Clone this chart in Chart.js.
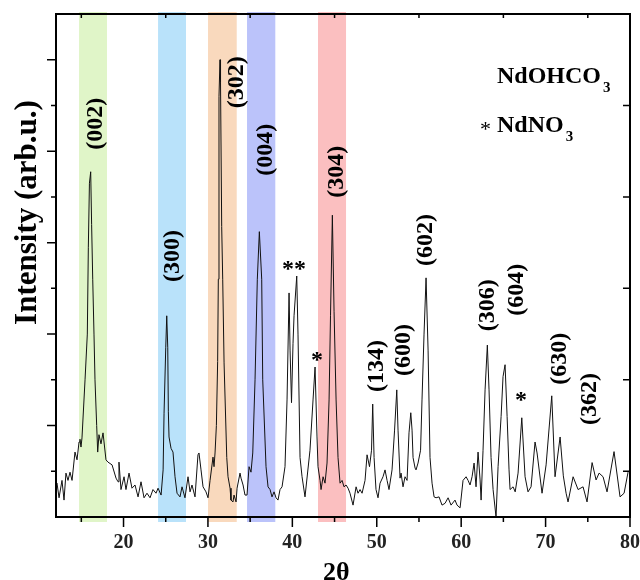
<!DOCTYPE html>
<html>
<head>
<meta charset="utf-8">
<script src="https://cdn.jsdelivr.net/npm/chart.js@4.4.1/dist/chart.umd.min.js"></script>
<style>
  html, body { margin: 0; padding: 0; background: #fff; }
  #wrap { width: 640px; height: 580px; }
</style>
</head>
<body>
<div id="wrap"><canvas id="xrd" width="640" height="580"></canvas></div>
<script>
// ========== pattern data ==========
const twoTheta = [
  12.00, 12.12, 12.36, 12.71, 12.95, 13.18, 13.42, 13.66, 13.90, 14.25, 14.49, 14.73, 14.84, 14.96, 15.08,
  15.44, 15.71, 15.83, 15.96, 16.11, 16.22, 16.35, 16.50, 16.62, 16.82, 16.94, 17.09, 17.33, 17.57, 17.92,
  18.16, 18.64, 19.11, 19.35, 19.46, 19.70, 20.06, 20.29, 20.65, 21.00, 21.36, 21.72, 22.07, 22.43, 22.78,
  23.14, 23.49, 23.85, 24.09, 24.45, 24.69, 24.80, 25.00, 25.12, 25.24, 25.31, 25.39, 25.63, 25.86, 26.10,
  26.34, 26.69, 26.93, 27.28, 27.64, 27.88, 28.11, 28.47, 28.82, 28.94, 29.18, 29.42, 29.77, 30.01, 30.25,
  30.60, 30.72, 30.84, 31.00, 31.15, 31.23, 31.31, 31.43, 31.49, 31.63, 31.75, 31.91, 32.23, 32.38, 32.62,
  32.73, 32.97, 33.09, 33.33, 33.45, 33.80, 33.92, 34.16, 34.39, 34.63, 34.87, 35.10, 35.31, 35.58, 35.85,
  36.09, 36.37, 36.49, 36.88, 37.12, 37.36, 37.59, 37.83, 38.07, 38.30, 38.54, 38.78, 39.13, 39.37, 39.61,
  39.73, 39.90, 40.08, 40.20, 40.52, 40.67, 40.91, 41.15, 41.50, 42.09, 42.45, 42.69, 42.92, 43.04, 43.28,
  43.40, 43.64, 43.87, 44.11, 44.35, 44.52, 44.74, 44.94, 45.18, 45.41, 45.65, 45.89, 46.12, 46.36, 46.60,
  46.83, 47.19, 47.55, 47.78, 48.02, 48.26, 48.61, 48.85, 49.14, 49.38, 49.52, 49.68, 49.91, 50.15, 50.39,
  50.74, 50.98, 51.22, 51.45, 51.81, 52.11, 52.37, 52.52, 52.76, 52.88, 53.11, 53.35, 53.59, 53.82, 54.03,
  54.18, 54.30, 54.54, 54.65, 54.89, 55.19, 55.36, 55.60, 55.84, 56.08, 56.31, 56.55, 56.79, 57.02, 57.38,
  57.73, 58.09, 58.45, 58.80, 59.27, 59.51, 59.87, 60.22, 60.58, 60.82, 61.05, 61.29, 61.53, 61.76, 62.00,
  62.24, 62.36, 62.59, 62.83, 63.10, 63.30, 63.54, 63.78, 64.13, 64.37, 64.73, 64.96, 65.20, 65.44, 65.67,
  65.79, 66.15, 66.40, 66.74, 67.18, 67.57, 67.92, 68.28, 68.75, 68.99, 69.58, 70.06, 70.73, 71.12, 71.72,
  72.10, 72.43, 72.66, 73.26, 73.85, 74.44, 74.91, 75.51, 75.98, 76.34, 76.81, 77.28, 78.11, 78.82, 79.30,
  79.77, 80.00
];
const intensity = [
  0.70, 0.74, 0.42, 0.80, 0.37, 0.96, 0.80, 0.98, 0.80, 1.42, 1.25, 1.64, 1.70, 1.53, 1.73,
  3.00, 4.00, 5.90, 7.30, 7.55, 6.40, 5.20, 4.00, 3.00, 2.00, 1.42, 1.80, 1.60, 1.84, 1.25,
  1.20, 1.14, 0.85, 0.77, 1.20, 0.60, 0.88, 0.60, 0.96, 0.63, 0.70, 0.44, 0.77, 0.42, 0.52,
  0.42, 0.60, 0.52, 0.63, 0.48, 1.03, 2.27, 3.70, 4.40, 3.70, 2.30, 1.75, 1.50, 1.42, 0.88,
  0.52, 0.44, 0.66, 0.42, 0.88, 0.55, 0.70, 0.44, 1.36, 1.40, 1.03, 0.66, 0.55, 0.42, 0.80,
  1.31, 1.10, 1.40, 2.00, 3.40, 5.20, 9.20, 10.00, 9.50, 6.35, 5.20, 3.37, 1.30, 0.88, 0.63,
  0.37, 0.33, 0.48, 0.33, 0.63, 0.96, 0.85, 0.70, 0.48, 0.48, 1.10, 0.98, 1.40, 3.00, 5.20,
  6.24, 5.20, 3.00, 1.10, 0.66, 0.60, 0.44, 0.55, 0.42, 0.37, 0.60, 0.66, 1.10, 2.56, 4.90,
  3.65, 2.50, 3.80, 4.40, 5.27, 4.00, 1.30, 0.88, 0.44, 1.46, 2.56, 3.28, 1.75, 1.10, 0.80,
  0.60, 0.88, 0.74, 1.18, 2.56, 4.40, 6.60, 4.50, 2.56, 1.30, 0.74, 0.80, 0.66, 0.70, 0.63,
  0.52, 0.26, 0.66, 0.52, 0.60, 0.52, 0.80, 1.36, 1.10, 1.46, 2.47, 1.30, 0.60, 0.42, 0.74,
  0.88, 1.03, 0.80, 0.60, 1.03, 1.90, 2.78, 1.90, 0.85, 0.96, 0.66, 0.88, 0.80, 1.84, 2.28,
  1.90, 1.30, 1.07, 1.03, 1.18, 1.46, 2.56, 4.00, 5.23, 3.65, 1.30, 0.74, 0.44, 0.42, 0.44,
  0.26, 0.30, 0.42, 0.26, 0.37, 0.26, 0.20, 0.80, 0.88, 0.80, 0.70, 0.88, 1.18, 0.66, 1.42,
  0.81, 0.37, 1.46, 2.78, 3.76, 2.78, 1.30, 0.60, 0.00, 1.10, 2.20, 3.07, 3.33, 2.20, 1.03,
  0.60, 0.66, 0.55, 0.96, 2.17, 0.88, 0.55, 0.66, 1.64, 1.40, 0.52, 1.14, 2.65, 0.88, 1.75,
  0.90, 0.52, 0.33, 0.88, 0.60, 0.66, 0.33, 1.19, 0.81, 0.96, 0.88, 0.55, 1.43, 0.44, 0.52,
  0.98, 1.03
];

const xTicks = [20, 30, 40, 50, 60, 70, 80];

// highlighted reflections (2θ ranges)
const bandFrom = [14.73, 24.09, 30.01, 34.63, 43.04];
const bandTo = [18.04, 27.40, 33.41, 37.98, 46.36];
const bandColors = ["#e0f5c8", "#b9e2fa", "#f9d9bd", "#bbc3fa", "#fbbfc0"];

// Miller indices, placed in data units
const hklLabels = ["(002)", "(300)", "(302)", "(004)", "(304)", "(602)", "(134)", "(600)", "(306)", "(604)", "(630)", "(362)"];
const hklX = [16.74, 25.86, 33.50, 36.88, 45.29, 55.84, 50.03, 53.23, 63.19, 66.62, 71.71, 75.27];
const hklY = [8.60, 5.71, 9.51, 8.03, 7.55, 6.06, 3.30, 3.65, 4.63, 4.97, 3.46, 2.58];

// NdNO3 marks
const starLabels = ["**", "*", "*"];
const starX = [40.20, 42.92, 67.09];
const starY = [5.49, 3.52, 2.63];

const SERIF = "'Liberation Serif', 'Times New Roman', serif";

function centeredText(ctx, text, cx, cy, rotate) {
  const m = ctx.measureText(text);
  const asc = m.actualBoundingBoxAscent, desc = m.actualBoundingBoxDescent;
  ctx.save();
  ctx.translate(cx, cy);
  if (rotate) ctx.rotate(-Math.PI / 2);
  ctx.textAlign = "center";
  ctx.textBaseline = "alphabetic";
  ctx.fillText(text, 0, (asc - desc) / 2);
  ctx.restore();
}

const decor = {
  id: "decor",
  beforeDatasetsDraw(chart) {
    const { ctx, chartArea: a, scales: { x } } = chart;
    ctx.save();
    bandFrom.forEach((f, i) => {
      const x0 = x.getPixelForValue(f);
      const x1 = x.getPixelForValue(bandTo[i]);
      ctx.fillStyle = bandColors[i];
      ctx.fillRect(x0, a.top - 2, x1 - x0, a.bottom - a.top + 7);
    });
    ctx.restore();
  },
  afterDraw(chart) {
    const { ctx, chartArea: a, scales: { x, y } } = chart;
    ctx.save();
    ctx.strokeStyle = "#000";
    ctx.fillStyle = "#000";

    // frame
    ctx.lineWidth = 2;
    ctx.strokeRect(a.left, a.top, a.right - a.left, a.bottom - a.top);

    // ticks
    ctx.lineWidth = 1.5;
    ctx.beginPath();
    for (let v = 15; v <= 80; v += 5) {
      const px = x.getPixelForValue(v);
      const len = v % 10 === 0 ? 10 : 5;
      ctx.moveTo(px, a.bottom); ctx.lineTo(px, a.bottom + len);
      if (v % 10 !== 0) { ctx.moveTo(px, a.top); ctx.lineTo(px, a.top + 4); }
    }
    for (let v = 1; v <= 10; v++) {
      const py = y.getPixelForValue(v);
      const len = v % 2 === 0 ? 9 : 5;
      ctx.moveTo(a.left, py); ctx.lineTo(a.left - len, py);
      if (v % 2 === 1) { ctx.moveTo(a.right, py); ctx.lineTo(a.right - 7, py); }
    }
    ctx.stroke();

    // hkl labels
    ctx.font = "bold 24px " + SERIF;
    hklLabels.forEach((t, i) => {
      centeredText(ctx, t, x.getPixelForValue(hklX[i]), y.getPixelForValue(hklY[i]), true);
    });
    starLabels.forEach((t, i) => {
      centeredText(ctx, t, x.getPixelForValue(starX[i]), y.getPixelForValue(starY[i]), false);
    });

    // legend
    ctx.textAlign = "left";
    ctx.textBaseline = "alphabetic";
    const lx = a.right - 133;
    ctx.font = "bold 24px " + SERIF;
    ctx.fillText("NdOHCO", lx, a.top + 69);
    let w = ctx.measureText("NdOHCO").width;
    ctx.font = "bold 15px " + SERIF;
    ctx.fillText("3", lx + w + 2, a.top + 78);
    ctx.font = "bold 24px " + SERIF;
    ctx.fillText("NdNO", lx, a.top + 118);
    w = ctx.measureText("NdNO").width;
    ctx.font = "bold 15px " + SERIF;
    ctx.fillText("3", lx + w + 2, a.top + 127);
    ctx.font = "22px " + SERIF;
    ctx.fillText("*", lx - 17, a.top + 122);

    // axis titles
    ctx.font = "bold 31px " + SERIF;
    centeredText(ctx, "Intensity (arb.u.)", 27.5, (a.top + a.bottom) / 2 - 53, true);
    ctx.font = "bold 26px " + SERIF;
    centeredText(ctx, "2θ", x.getPixelForValue(45.2), 571, false);
    ctx.restore();
  }
};

new Chart(document.getElementById("xrd").getContext("2d"), {
  type: "line",
  data: {
    datasets: [{
      data: twoTheta.map((t, i) => ({ x: t, y: intensity[i] })),
      borderColor: "#111",
      borderWidth: 1,
      pointRadius: 0,
      tension: 0,
      fill: false
    }]
  },
  options: {
    responsive: false,
    animation: false,
    events: [],
    layout: { padding: { left: 0, right: 10, top: 14, bottom: 0 } },
    plugins: { legend: { display: false }, tooltip: { enabled: false } },
    scales: {
      x: {
        type: "linear",
        min: 12,
        max: 80,
        grid: { display: false, drawTicks: false },
        border: { display: false },
        afterBuildTicks: s => { s.ticks = xTicks.map(v => ({ value: v })); },
        afterFit: s => { s.height = 63; s.paddingLeft = 0; s.paddingRight = 0; },
        ticks: {
          padding: 14,
          color: "#222",
          font: { family: SERIF, size: 20, weight: "bold" },
          maxRotation: 0
        }
      },
      y: {
        min: 0,
        max: 11,
        grid: { display: false, drawTicks: false },
        border: { display: false },
        ticks: { display: false },
        afterFit: s => { s.width = 56; s.paddingTop = 0; s.paddingBottom = 0; }
      }
    }
  },
  plugins: [decor]
});
</script>
</body>
</html>
